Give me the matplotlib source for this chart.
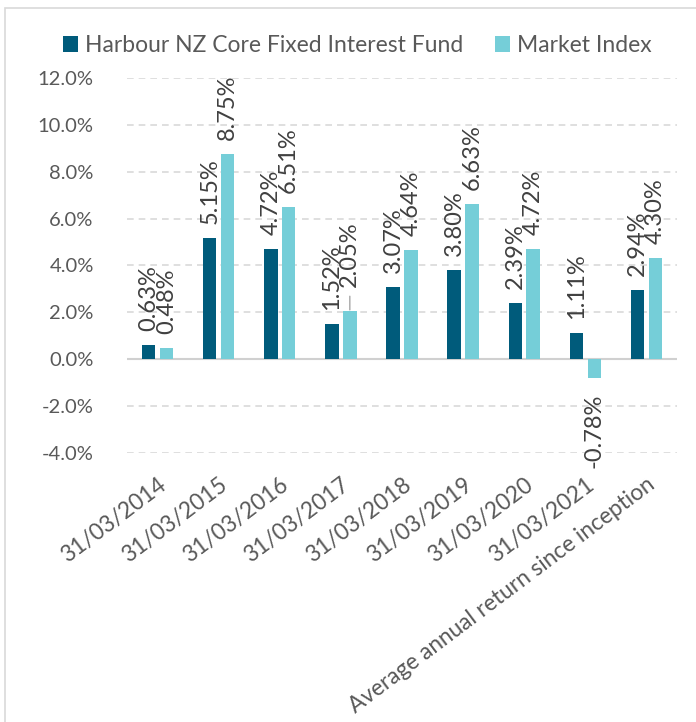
import matplotlib
matplotlib.use("Agg")
import matplotlib.pyplot as plt
from matplotlib.patches import Rectangle
from matplotlib.ticker import FuncFormatter
import numpy as np

plt.rcParams['font.family'] = ['Lato', 'DejaVu Sans']

categories = ['31/03/2014', '31/03/2015', '31/03/2016', '31/03/2017', '31/03/2018',
              '31/03/2019', '31/03/2020', '31/03/2021', 'Average annual return since inception']
fund = [0.63, 5.15, 4.72, 1.52, 3.07, 3.80, 2.39, 1.11, 2.94]
index = [0.48, 8.75, 6.51, 2.05, 4.64, 6.63, 4.72, -0.78, 4.30]
series_names = ['Harbour NZ Core Fixed Interest Fund', 'Market Index']

dark = '#005b7b'
light = '#75ced8'
tick_col = '#595959'
lab_col = '#404040'

fig = plt.figure(figsize=(6.96, 7.22), dpi=100)
ax = fig.add_axes([0.1825, 0.3722, 0.7902, 0.5202])

# chart border (only left and top edges are visible in the crop)
fig.patches.append(Rectangle((5 / 696, -0.1), 1.2, 1.1 - 8 / 722, transform=fig.transFigure,
                             fill=False, edgecolor='#d9d9d9', linewidth=1.2))

x = np.arange(len(categories))
w = 0.22
off = 0.146
b1 = ax.bar(x - off, fund, w, color=dark, label=series_names[0], zorder=3)
b2 = ax.bar(x + off, index, w, color=light, label=series_names[1], zorder=3)

ax.set_xlim(-0.5, len(categories) - 0.5)
ax.set_ylim(-4, 12)
ax.set_yticks(np.arange(-4, 12.1, 2))
ax.yaxis.set_major_formatter(FuncFormatter(lambda v, p: '%.1f%%' % v))
ax.grid(axis='y', color='#d9d9d9', linestyle=(0, (4, 3)), linewidth=1.2, zorder=0)
ax.axhline(0, color='#d0d0d0', linewidth=1.5, zorder=2)
for s in ax.spines.values():
    s.set_visible(False)
ax.tick_params(axis='both', length=0, labelcolor=tick_col)
ax.tick_params(axis='y', pad=24, labelsize=14.5)
ax.set_xticks(x)
ax.set_xticklabels(categories, rotation=37, ha='right', rotation_mode='anchor')
ax.tick_params(axis='x', pad=15, labelsize=16.3)

# data labels, 2.05% is pushed up with a leader line like in the original
def label(bars, vals, lifted=()):
    for i, (b, v) in enumerate(zip(bars, vals)):
        cx = b.get_x() + b.get_width() / 2
        txt = '%.2f%%' % v
        if v < 0:
            ax.annotate(txt, (cx, v), xytext=(0, -16), textcoords='offset pixels',
                        rotation=90, ha='center', va='top', fontsize=17, color=lab_col)
        elif i in lifted:
            ax.annotate(txt, (cx, v), xytext=(0, 24), textcoords='offset pixels',
                        rotation=90, ha='center', va='bottom', fontsize=17, color=lab_col)
            ax.annotate('', (cx, v), xytext=(0, 15), textcoords='offset pixels',
                        arrowprops=dict(arrowstyle='-', color='#a6a6a6', lw=1,
                                        shrinkA=0, shrinkB=1))
        else:
            ax.annotate(txt, (cx, v), xytext=(0, 14), textcoords='offset pixels',
                        rotation=90, ha='center', va='bottom', fontsize=17, color=lab_col)

label(b1, fund)
label(b2, index, lifted=(3,))

leg = fig.legend(loc='center', bbox_to_anchor=(0.513, 0.937), ncol=2, frameon=False,
                 fontsize=16.5, labelcolor=tick_col, handlelength=0.65, handleheight=0.65,
                 handletextpad=0.3, columnspacing=1.4)

fig.savefig('out.png', dpi=100)
